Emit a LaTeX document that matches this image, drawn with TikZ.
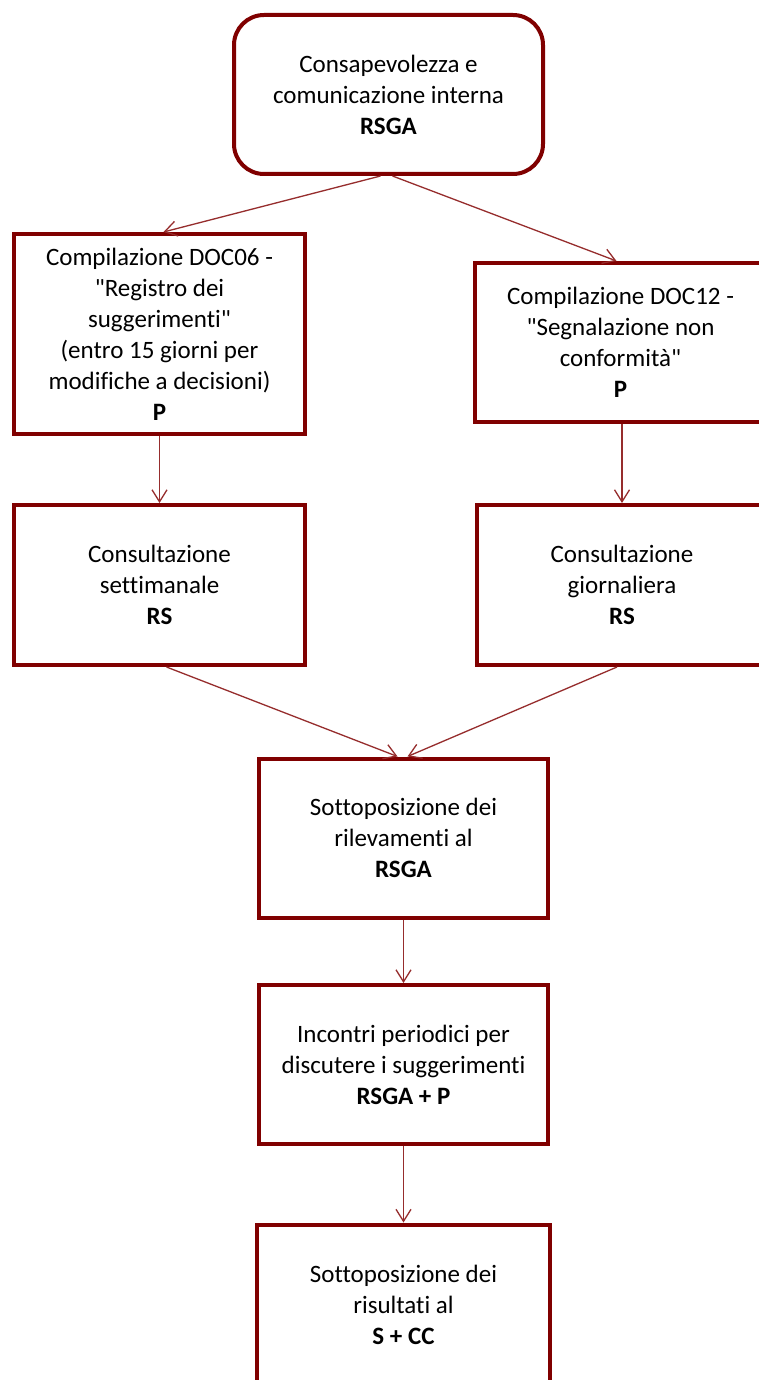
\documentclass[tikz,border=0pt]{standalone}
\usepackage{fontspec}
\setmainfont{Carlito}[Ligatures={NoCommon,TeXOff}]
\usetikzlibrary{arrows.meta,calc}
\definecolor{boxred}{RGB}{128,0,0}
\definecolor{arrred}{RGB}{150,45,45}
\begin{document}
\begin{tikzpicture}[x=1pt,y=-1pt,
  box/.style={draw=boxred,line width=4pt,fill=white,inner sep=0pt,align=center,
    font=\fontsize{25}{31}\selectfont,text=black},
  rbox/.style={box,rounded corners=30pt},
  conn/.style={draw=arrred,line width=1.3pt,-{Straight Barb[length=12pt,width=15pt,line width=1.3pt]}}]
\useasboundingbox (0,0) rectangle (759,1380);
\clip (0,0) rectangle (759,1380);
\fill[white] (0,0) rectangle (759,1380);

\node[rbox,minimum width=309pt,minimum height=159pt] (top) at (388.5,94.5)
  {Consapevolezza e\\comunicazione interna\\\textbf{RSGA}};
\node[box,minimum width=291pt,minimum height=200pt] (la) at (159.5,334)
  {Compilazione DOC06 -\\"Registro dei\\suggerimenti"\\(entro 15 giorni per\\modifiche a decisioni)\\\textbf{P}};
\node[box,minimum width=291pt,minimum height=159pt] (ra) at (620.5,342.5)
  {Compilazione DOC12 -\\"Segnalazione non\\conformità"\\\textbf{P}};
\node[box,minimum width=291pt,minimum height=160pt] (lb) at (159.5,585)
  {Consultazione\\settimanale\\\textbf{RS}};
\node[box,minimum width=291pt,minimum height=160pt] (rb) at (622,585)
  {Consultazione\\giornaliera\\\textbf{RS}};
\node[box,minimum width=289pt,minimum height=159pt] (c) at (403.5,838)
  {Sottoposizione dei\\rilevamenti al\\\textbf{RSGA}};
\node[box,minimum width=289pt,minimum height=159pt] (d) at (403.5,1064.5)
  {Incontri periodici per\\discutere i suggerimenti\\\textbf{RSGA + P}};
\node[box,minimum width=293pt,minimum height=161pt] (e) at (403.5,1305)
  {Sottoposizione dei\\risultati al\\\textbf{S + CC}};

\draw[conn] ([xshift=-8pt]top.south) -- ([xshift=4pt]la.north);
\draw[conn] ([xshift=4pt]top.south) -- ([xshift=-4pt]ra.north);
\draw[conn] (la.south) -- (lb.north);
\draw[conn] ([xshift=1.5pt]ra.south) -- (rb.north);
\draw[conn] ([xshift=7pt]lb.south) -- ([xshift=-6pt]c.north);
\draw[conn] ([xshift=-5pt]rb.south) -- ([xshift=4pt]c.north);
\draw[conn] (c.south) -- (d.north);
\draw[conn] (d.south) -- (e.north);
\end{tikzpicture}
\end{document}
